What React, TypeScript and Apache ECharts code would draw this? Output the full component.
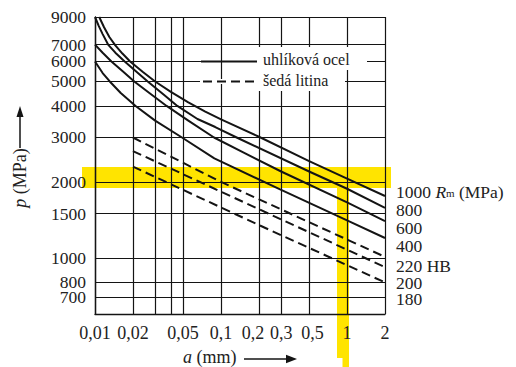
import React, { useEffect, useRef } from "react";
import * as echarts from "echarts";

// axis ticks
const xGridTicks = [0.01, 0.02, 0.03, 0.04, 0.05, 0.1, 0.2, 0.3, 0.5, 1, 2];
const xLabelTicks = [0.01, 0.02, 0.05, 0.1, 0.2, 0.3, 0.5, 1, 2];
const yGridTicks = [700, 800, 1000, 1500, 2000, 3000, 4000, 5000, 6000, 7000, 9000];
const yLabelTicks = [800, 1000, 1500, 2000, 3000, 4000, 5000, 6000, 7000, 9000];
const yLabelTicksLow = [700];

// carbon steel (uhlíková ocel), Rm in MPa: [a (mm), p (MPa)]
const steelRm1000 = [
  [0.0108, 9000], [0.0118, 8200], [0.013, 7500], [0.0145, 6950], [0.0165, 6450], [0.019, 6000],
  [0.024, 5450], [0.03, 5000], [0.04, 4550], [0.055, 4130], [0.075, 3800], [0.1, 3540],
  [0.2, 3020], [0.5, 2420], [1, 2060], [2, 1760],
];
const steelRm800 = [
  [0.01, 9000], [0.0107, 8300], [0.0115, 7700], [0.0127, 7000], [0.0145, 6500], [0.0172, 6000],
  [0.021, 5500], [0.0262, 5000], [0.035, 4440], [0.045, 4000], [0.065, 3550], [0.09, 3300],
  [0.133, 3000], [0.5, 2200], [1, 1880], [2, 1580],
];
const steelRm600 = [
  [0.01, 7000], [0.0115, 6500], [0.0135, 6000], [0.0165, 5500], [0.0205, 5000], [0.027, 4500],
  [0.037, 4000], [0.055, 3500], [0.088, 3000], [0.15, 2620], [0.3, 2200], [1, 1660], [2, 1400],
];
const steelRm400 = [
  [0.01, 6000], [0.0115, 5400], [0.0131, 5000], [0.016, 4500], [0.021, 4000], [0.03, 3500],
  [0.049, 3000], [0.0885, 2480], [0.3, 1860], [1, 1410], [2, 1200],
];

// grey cast iron (šedá litina), HB
const ironHB220 = [[0.02, 3000], [0.1, 2000], [2, 1010]];
const ironHB200 = [[0.02, 2650], [0.2, 1560], [2, 920]];
const ironHB180 = [[0.02, 2300], [0.2, 1350], [2, 800]];

const FONT = "'Liberation Serif', 'Times New Roman', serif";
const INK = "#141414";
const TXT = "#222";
const YELLOW = "#FFE400";

function fmt(v: number) {
  return String(Number(Number(v).toPrecision(6))).replace(".", ",");
}

export default function App() {
  const ref = useRef<HTMLDivElement>(null);
  useEffect(() => {
    if (!ref.current) return;
    const chart = echarts.init(ref.current, undefined, { renderer: "svg" });
    const curve = (name: string, data: number[][], dash: boolean) => ({
      name,
      type: "line",
      data,
      xAxisIndex: 0,
      yAxisIndex: 0,
      showSymbol: false,
      symbol: "none",
      smooth: false,
      silent: true,
      lineStyle: dash ? { color: INK, width: 2, type: [9, 5] } : { color: INK, width: 2, join: "round" },
      z: 2,
    });
    const rightLabel = (y: number, text: string) => ({
      type: "text",
      x: 396,
      y,
      z: 4,
      silent: true,
      style: {
        text,
        fontSize: 17.5,
        fontFamily: FONT,
        fill: TXT,
        align: "left",
        verticalAlign: "middle",
        lineHeight: 13,
        rich: {
          i: { fontStyle: "italic", fontSize: 17.5, fontFamily: FONT, fill: TXT, lineHeight: 13 },
          s: { fontSize: 11, fontFamily: FONT, fill: TXT, lineHeight: 5, verticalAlign: "bottom" },
        },
      },
    });
    const tickRich = {
      l: { fontSize: 18, fontFamily: FONT, color: TXT, padding: [0, 12, 0, 0] },
      r: { fontSize: 18, fontFamily: FONT, color: TXT, padding: [0, 0, 0, 7] },
    };
    const yLabelStyle = {
      hideOverlap: false,
      showMinLabel: true,
      showMaxLabel: true,
      formatter: (v: number) => fmt(v),
      fontSize: 17.5,
      lineHeight: 12,
      fontFamily: FONT,
      color: TXT,
      margin: 9,
    };
    chart.setOption({
      animation: false,
      backgroundColor: "#fff",
      textStyle: { fontFamily: FONT },
      grid: { left: 95, right: 131, top: 17, bottom: 53, containLabel: false, outerBoundsMode: "none" },
      xAxis: {
        type: "log",
        logBase: 10,
        min: 0.01,
        max: 2,
        axisLine: { show: true, onZero: false, lineStyle: { color: INK, width: 1.4 } },
        axisTick: { show: false, customValues: xGridTicks },
        axisLabel: {
          customValues: xLabelTicks,
          hideOverlap: false,
          showMinLabel: true,
          showMaxLabel: true,
          formatter: (v: number) => {
            const s = fmt(v);
            if (Math.abs(v - 0.2) < 1e-9) return "{l|" + s + "}";
            if (Math.abs(v - 0.5) < 1e-9) return "{r|" + s + "}";
            return s;
          },
          rich: tickRich,
          fontSize: 18,
          fontFamily: FONT,
          color: TXT,
          margin: 10,
        },
        splitLine: { show: true, lineStyle: { color: INK, width: 1.2 } },
      },
      yAxis: [
        {
          type: "log",
          logBase: 10,
          min: 600,
          max: 9000,
          position: "left",
          axisLine: { show: true, onZero: false, lineStyle: { color: INK, width: 1.4 } },
          axisTick: { show: false, customValues: yGridTicks },
          axisLabel: { ...yLabelStyle, customValues: yLabelTicks },
          splitLine: { show: true, lineStyle: { color: INK, width: 1.2 } },
        },
        {
          type: "log",
          logBase: 10,
          min: 600,
          max: 9000,
          position: "left",
          offset: 0,
          axisLine: { show: false },
          axisTick: { show: false, customValues: yLabelTicksLow },
          axisLabel: { ...yLabelStyle, customValues: yLabelTicksLow },
          splitLine: { show: false },
        },
      ],
      series: [
        curve("Rm 1000", steelRm1000, false),
        curve("Rm 800", steelRm800, false),
        curve("Rm 600", steelRm600, false),
        curve("Rm 400", steelRm400, false),
        curve("HB 220", ironHB220, true),
        curve("HB 200", ironHB200, true),
        curve("HB 180", ironHB180, true),
      ],
      graphic: [
        // yellow highlight
        { type: "rect", z: -1, silent: true, shape: { x: 82, y: 167, width: 309, height: 21 }, style: { fill: YELLOW } },
        { type: "rect", z: -1, silent: true, shape: { x: 337, y: 188, width: 12, height: 170 }, style: { fill: YELLOW } },
        { type: "rect", z: -1, silent: true, shape: { x: 342.5, y: 357, width: 6.5, height: 10 }, style: { fill: YELLOW } },
        // legend box
        { type: "rect", z: 3, silent: true, shape: { x: 257, y: 47, width: 110, height: 23 }, style: { fill: "#fff" } },
        { type: "rect", z: 3, silent: true, shape: { x: 257, y: 70, width: 88, height: 21 }, style: { fill: "#fff" } },
        { type: "rect", z: 3, silent: true, shape: { x: 200, y: 79, width: 57, height: 5 }, style: { fill: "#fff" } },
        { type: "line", z: 4, silent: true, shape: { x1: 201, y1: 61.5, x2: 257, y2: 61.5 }, style: { stroke: INK, lineWidth: 2 } },
        { type: "line", z: 4, silent: true, shape: { x1: 203, y1: 81.5, x2: 257, y2: 81.5 }, style: { stroke: INK, lineWidth: 2, lineDash: [9, 5] } },
        { type: "text", z: 4, silent: true, x: 263, y: 59, style: { text: "uhlíková ocel", fontSize: 16, fontFamily: FONT, fill: TXT, align: "left", verticalAlign: "middle" } },
        { type: "text", z: 4, silent: true, x: 263, y: 80, style: { text: "šedá litina", fontSize: 16, fontFamily: FONT, fill: TXT, align: "left", verticalAlign: "middle" } },
        // right labels
        rightLabel(191.5, "1000 {i|R}{s|m} (MPa)"),
        rightLabel(210, "800"),
        rightLabel(228, "600"),
        rightLabel(246, "400"),
        rightLabel(266, "220 HB"),
        rightLabel(283, "200"),
        rightLabel(298.5, "180"),
        // y axis title
        {
          type: "text",
          z: 4,
          silent: true,
          x: 20,
          y: 178,
          rotation: Math.PI / 2,
          style: {
            text: "{i|p} (MPa)",
            fontSize: 18,
            fontFamily: FONT,
            fill: TXT,
            align: "center",
            verticalAlign: "middle",
            rich: { i: { fontStyle: "italic", fontSize: 18, fontFamily: FONT, fill: TXT } },
          },
        },
        { type: "line", z: 4, silent: true, shape: { x1: 20, y1: 148, x2: 20, y2: 114 }, style: { stroke: INK, lineWidth: 1.5 } },
        { type: "polygon", z: 4, silent: true, shape: { points: [[20, 106], [16.5, 117], [23.5, 117]] }, style: { fill: INK } },
        // x axis title
        {
          type: "text",
          z: 4,
          silent: true,
          x: 183,
          y: 357,
          style: {
            text: "{i|a} (mm)",
            fontSize: 18,
            lineHeight: 16,
            fontFamily: FONT,
            fill: TXT,
            align: "left",
            verticalAlign: "middle",
            rich: { i: { fontStyle: "italic", fontSize: 18, lineHeight: 16, fontFamily: FONT, fill: TXT } },
          },
        },
        { type: "line", z: 4, silent: true, shape: { x1: 244, y1: 359, x2: 288, y2: 359 }, style: { stroke: INK, lineWidth: 1.5 } },
        { type: "polygon", z: 4, silent: true, shape: { points: [[297, 359], [286, 354.8], [286, 363.2]] }, style: { fill: INK } },
      ],
    });
    return () => chart.dispose();
  }, []);
  return <div ref={ref} style={{ position: "absolute", left: 0, top: 0, width: 516, height: 367 }} />;
}
